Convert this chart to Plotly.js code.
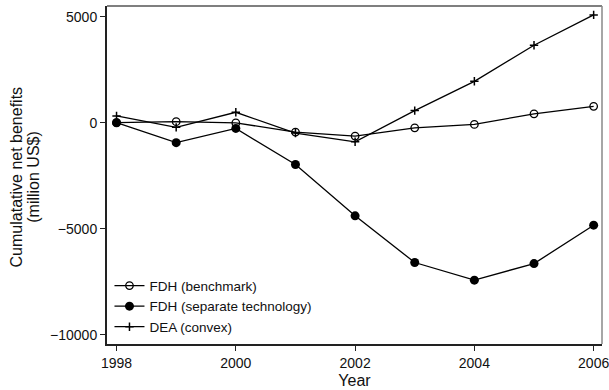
<!DOCTYPE html>
<html>
<head>
<meta charset="utf-8">
<script src="https://cdn.plot.ly/plotly-3.0.1.min.js"></script>
<style>
  html, body { margin: 0; padding: 0; background: #fff; }
  #chart { width: 609px; height: 390px; }
</style>
</head>
<body>
<div id="chart"></div>
<script>
// Years on the x axis
const years = [1998, 1999, 2000, 2001, 2002, 2003, 2004, 2005, 2006];

// Cumulative net benefits, million US$
const fdhBenchmark = [0, 50, -10, -440, -630, -240, -80, 420, 770];
const fdhSeparate = [0, -940, -270, -1970, -4390, -6590, -7420, -6640, -4830];
const deaConvex = [320, -220, 490, -490, -900, 570, 1950, 3650, 5080];

// Axis ticks
const xTicks = [1998, 2000, 2002, 2004, 2006];
const yTicks = [-10000, -5000, 0, 5000];
const yTickText = ['\u221210000', '\u22125000', '0', '5000'];

// Y axis title, two centred lines
const yTitleLines = ['Cumulatative net benefits', '(million US$)'];

const family = 'Liberation Sans, Arial, sans-serif';
const tickFont = { family: family, color: '#111', size: 14 };
const titleFont = { family: family, color: '#111', size: 16 };
const lineStyle = { color: '#000', width: 1.3 };

const traces = [
  {
    x: years, y: fdhBenchmark, name: 'FDH (benchmark)',
    mode: 'lines+markers', line: lineStyle,
    marker: { symbol: 'circle-open', size: 7.5, color: '#000', line: { width: 1.3, color: '#000' } }
  },
  {
    x: years, y: fdhSeparate, name: 'FDH (separate technology)',
    mode: 'lines+markers', line: lineStyle,
    marker: { symbol: 'circle', size: 9, color: '#000' }
  },
  {
    x: years, y: deaConvex, name: 'DEA (convex)',
    mode: 'lines+markers', line: lineStyle,
    marker: { symbol: 'cross-thin-open', size: 6, color: '#000', line: { width: 1.5, color: '#000' } }
  }
];

const layout = {
  width: 609, height: 390,
  margin: { l: 107, r: 7, t: 6, b: 46 },
  paper_bgcolor: '#fff', plot_bgcolor: '#fff',
  font: tickFont,
  showlegend: true,
  legend: {
    x: 0.005, y: 0.005, xanchor: 'left', yanchor: 'bottom',
    bgcolor: 'rgba(0,0,0,0)', font: { family: family, size: 13.5, color: '#111' },
    tracegroupgap: 0
  },
  xaxis: {
    range: [1997.84, 2006.14],
    tickmode: 'array', tickvals: xTicks,
    ticks: 'outside', ticklen: 5, tickwidth: 1.2, tickcolor: '#222',
    showline: true, linecolor: '#222', linewidth: 2,
    showgrid: false, zeroline: false,
    tickfont: tickFont, ticklabeloverflow: 'allow',
    title: { text: 'Year', font: titleFont, standoff: 5 }
  },
  yaxis: {
    range: [-10430, 5500],
    tickmode: 'array', tickvals: yTicks, ticktext: yTickText,
    ticks: 'outside', ticklen: 5, tickwidth: 1.2, tickcolor: '#222',
    showline: true, linecolor: '#222', linewidth: 2,
    showgrid: false, zeroline: false,
    tickfont: tickFont
  },
  annotations: [
    { text: yTitleLines[0], xref: 'paper', yref: 'paper', x: -0.183, y: 0.494,
      xanchor: 'center', yanchor: 'middle', textangle: -90, showarrow: false, font: titleFont },
    { text: yTitleLines[1], xref: 'paper', yref: 'paper', x: -0.15, y: 0.494,
      xanchor: 'center', yanchor: 'middle', textangle: -90, showarrow: false, font: titleFont }
  ],
  shapes: [
    // lighter frame on the top and right edges of the plot area
    { type: 'line', xref: 'paper', yref: 'paper', x0: 0, x1: 1, y0: 1, y1: 1, line: { color: '#555', width: 1.5 } },
    { type: 'line', xref: 'paper', yref: 'paper', x0: 1, x1: 1, y0: 0, y1: 1, line: { color: '#888', width: 1.5 } }
  ]
};

Plotly.newPlot('chart', traces, layout, { displayModeBar: false, staticPlot: true });
</script>
</body>
</html>
